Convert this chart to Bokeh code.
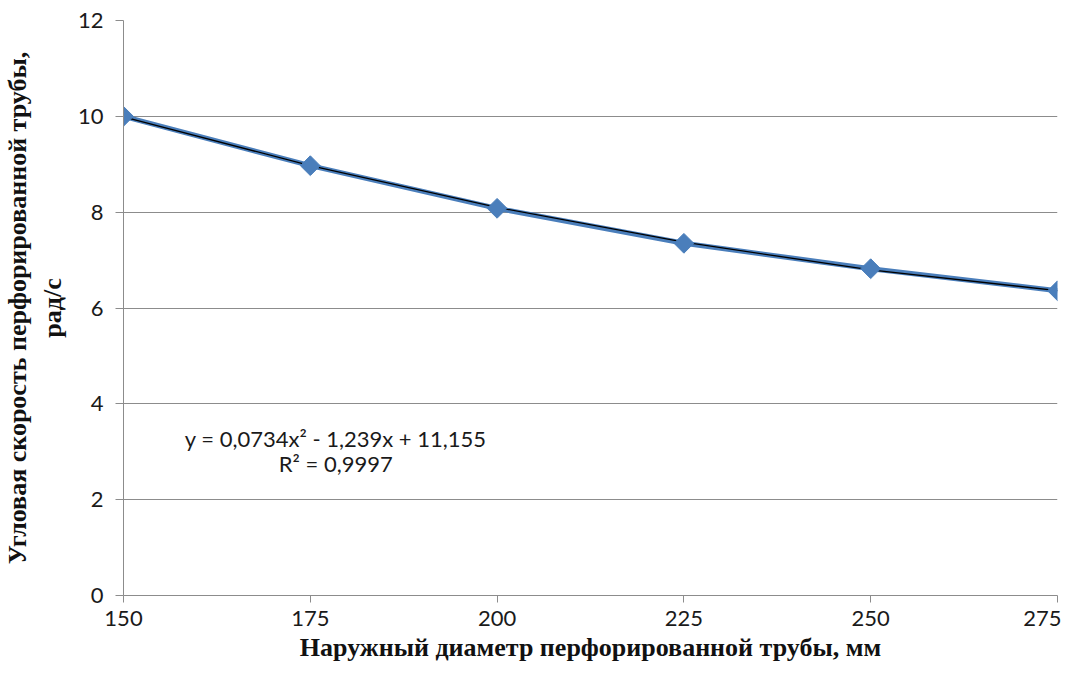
import math
from bokeh.plotting import figure
from bokeh.models import Range1d, ColumnDataSource, FixedTicker
from bokeh.core.properties import value
from bokeh.embed import file_html
from bokeh.resources import INLINE

diameter = [150, 175, 200, 225, 250, 275]
omega = [10.0, 8.97, 8.08, 7.35, 6.82, 6.36]
trend = [9.989, 8.971, 8.099, 7.373, 6.795, 6.363]
eq_line1 = "y = 0,0734x² - 1,239x + 11,155"
eq_line2 = "R² = 0,9997"
x_ticks = [150, 175, 200, 225, 250, 275]
y_ticks = [0, 2, 4, 6, 8, 10, 12]

p = figure(width=1061, height=664, output_backend="svg", toolbar_location=None,
           x_range=Range1d(150, 275), y_range=Range1d(0, 12),
           min_border_left=115, min_border_right=4, min_border_top=20, min_border_bottom=68)
p.outline_line_color = None
p.background_fill_color = "white"

p.xgrid.grid_line_color = None
p.ygrid.grid_line_color = "#8c8c8c"
p.ygrid.grid_line_width = 1
p.ygrid.ticker = FixedTicker(ticks=y_ticks)

for ax in (p.xaxis[0], p.yaxis[0]):
    ax.axis_line_color = "#8c8c8c"
    ax.major_tick_line_color = "#8c8c8c"
    ax.minor_tick_line_color = None
    ax.major_tick_in = 0
    ax.major_label_text_font = "Lato"
    ax.major_label_text_font_size = "22px"
    ax.major_label_text_color = "#1a1a1a"
    ax.axis_label_text_font = "Liberation Serif"
    ax.axis_label_text_font_style = "bold"
    ax.axis_label_text_font_size = "26px"
    ax.axis_label_text_color = "#111111"

p.xaxis.ticker = FixedTicker(ticks=x_ticks)
p.xaxis.major_tick_out = 7
p.xaxis.major_label_standoff = 8
p.xaxis.axis_label = "Наружный диаметр перфорированной трубы, мм"
p.xaxis.axis_label_standoff = 4

p.yaxis.ticker = FixedTicker(ticks=y_ticks)
p.yaxis.major_tick_out = 8
p.yaxis.major_label_standoff = 12
p.yaxis.axis_label = "Угловая скорость перфорированной трубы,\nрад/с"
p.yaxis.axis_label_standoff = 8

src = ColumnDataSource(dict(x=diameter, y=omega, t=trend))
p.line("x", "y", source=src, line_color="#4a7ebb", line_width=5)
p.line("x", "t", source=src, line_color="#000000", line_width=1.3)
p.scatter("x", "y", source=src, marker="square", angle=math.pi / 4, size=14,
          fill_color="#4a7ebb", line_color="#4a7ebb")

p.text(x=[178.4], y=[3.28], text=[eq_line1], text_align="center", text_baseline="middle",
       text_font=value("Lato"), text_font_size="22px", text_color="#1a1a1a")
p.text(x=[178.4], y=[2.76], text=[eq_line2], text_align="center", text_baseline="middle",
       text_font=value("Lato"), text_font_size="22px", text_color="#1a1a1a")

open("out.html", "w").write(file_html(p, INLINE))
